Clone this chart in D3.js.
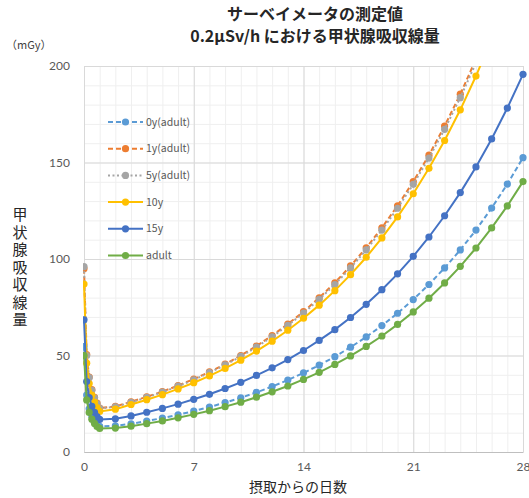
<!DOCTYPE html>
<html>
<head>
<meta charset="utf-8">
<script src="https://cdn.jsdelivr.net/npm/d3@7"></script>
<style>
body { margin: 0; background: #fff; }
svg { display: block; }
</style>
</head>
<body>
<div id="chart"></div>
<script>
// days after intake (first points are hours of day 0)
const days = [0, 0.17, 0.33, 0.5, 0.67, 0.83, 1, 2, 3, 4, 5, 6, 7, 8, 9, 10, 11, 12, 13, 14,
    15, 16, 17, 18, 19, 20, 21, 22, 23, 24, 25, 26, 27, 28];

const dose0y = [54.6, 29.5, 22.4, 18.6, 16.2, 14.4, 13.3, 13.5, 14.6, 16.0, 17.6, 19.3, 21.2, 23.3,
    25.6, 28.1, 30.9, 33.9, 37.3, 41.0, 45.0, 49.4, 54.3, 59.6, 65.5, 71.9, 79.0, 86.8, 95.4,
    104.7, 115.0, 126.4, 138.8, 152.5];
const dose1y = [95, 50.5, 38.8, 32.3, 28.3, 25.3, 22.8, 23.6, 26.0, 28.6, 31.3, 34.4, 37.8, 41.5,
    45.5, 50.0, 54.9, 60.3, 66.3, 72.7, 79.9, 87.7, 96.4, 105.8, 116.2, 127.6, 140.1, 153.8, 168.9,
    185.4, 203.6, 223, 245, 270];
const dose5y = [96, 50, 38.5, 32, 28, 25, 22.6, 23.4, 25.7, 28.3, 31.0, 34.1, 37.4, 41.1,
    45.1, 49.5, 54.4, 59.7, 65.6, 72.0, 79.1, 86.8, 95.4, 104.7, 115.0, 126.3, 138.7, 152.3, 167.2,
    183.6, 201.6, 221, 243, 267];
const dose10y = [87, 46, 35.5, 29.5, 25.8, 23.0, 21.0, 22.2, 24.6, 27.1, 29.7, 32.7, 35.9, 39.4,
    43.3, 47.6, 52.3, 57.4, 63.1, 69.3, 76.1, 83.6, 91.9, 100.9, 110.9, 121.8, 133.8, 147.0, 161.4,
    177.3, 194.8, 214, 235, 258];
const dose15y = [68.5, 36.5, 28.2, 23.6, 20.6, 18.3, 16.9, 17.2, 18.7, 20.6, 22.6, 24.8, 27.3, 29.9,
    32.9, 36.1, 39.7, 43.6, 47.9, 52.6, 57.8, 63.4, 69.7, 76.5, 84.1, 92.3, 101.4, 111.4, 122.4,
    134.4, 147.7, 162.2, 178.2, 195.7];
const doseAdult = [50, 27, 20.5, 17, 14.8, 13.2, 12.2, 12.4, 13.4, 14.7, 16.1, 17.7, 19.5, 21.4,
    23.5, 25.8, 28.4, 31.2, 34.2, 37.6, 41.3, 45.4, 49.8, 54.7, 60.1, 66.1, 72.6, 79.7, 87.6,
    96.2, 105.7, 116.1, 127.5, 140.1];

const seriesNames = ["0y(adult)", "1y(adult)", "5y(adult)", "10y", "15y", "adult"];
const xTicks = [0, 7, 14, 21, 28];
const yTicks = [0, 50, 100, 150, 200];

const titleLines = ["サーベイメータの測定値", "0.2μSv/h における甲状腺吸収線量"];
const yTitle = "甲状腺吸収線量";
const xTitle = "摂取からの日数";
const unitLabel = "（mGy）";

const W = 529, H = 498;
const margin = { top: 66, right: 6, bottom: 46, left: 84 };
const width = W - margin.left - margin.right;
const height = H - margin.top - margin.bottom;

const jpFont = "'Noto Sans CJK JP', 'Noto Sans', sans-serif";
const numFont = "Lato, 'Noto Sans', sans-serif";

const styles = [
    { color: "#5B9BD5", dash: "5,3" },
    { color: "#ED7D31", dash: "5,3" },
    { color: "#A5A5A5", dash: "2,2.5" },
    { color: "#FFC000", dash: null },
    { color: "#4472C4", dash: null },
    { color: "#70AD47", dash: null }
];
const allValues = [dose0y, dose1y, dose5y, dose10y, dose15y, doseAdult];
const series = seriesNames.map((name, i) => ({
    name,
    color: styles[i].color,
    dash: styles[i].dash,
    points: days.map((d, j) => ({ day: d, value: allValues[i][j] }))
}));

const svg = d3.select("#chart").append("svg")
    .attr("width", W)
    .attr("height", H);

const g = svg.append("g")
    .attr("transform", `translate(${margin.left},${margin.top})`);

const x = d3.scaleLinear().domain([0, 28]).range([0, width]);
const y = d3.scaleLinear().domain([0, 200]).range([height, 0]);

// minor grid
g.append("g")
    .attr("transform", `translate(0,${height})`)
    .call(d3.axisBottom(x).tickValues(d3.range(0, 29, 1)).tickSize(-height).tickFormat(""))
    .call(s => s.select(".domain").remove())
    .selectAll("line").attr("stroke", "#efefef");
g.append("g")
    .call(d3.axisLeft(y).tickValues(d3.range(0, 201, 10)).tickSize(-width).tickFormat(""))
    .call(s => s.select(".domain").remove())
    .selectAll("line").attr("stroke", "#efefef");

// major grid
g.append("g")
    .attr("transform", `translate(0,${height})`)
    .call(d3.axisBottom(x).tickValues(xTicks).tickSize(-height).tickFormat(""))
    .call(s => s.select(".domain").remove())
    .selectAll("line").attr("stroke", "#d9d9d9");
g.append("g")
    .call(d3.axisLeft(y).tickValues(yTicks).tickSize(-width).tickFormat(""))
    .call(s => s.select(".domain").remove())
    .selectAll("line").attr("stroke", "#d9d9d9");

// x axis
g.append("g")
    .attr("transform", `translate(0,${height})`)
    .call(d3.axisBottom(x).tickValues(xTicks).tickSize(0).tickPadding(10))
    .call(s => s.select(".domain").attr("stroke", "#bfbfbf"))
    .selectAll("text")
    .style("font-family", numFont)
    .style("font-size", "12px")
    .attr("fill", "#595959");

// y axis
g.append("g")
    .call(d3.axisLeft(y).tickValues(yTicks).tickSize(0).tickPadding(14))
    .call(s => s.select(".domain").remove())
    .selectAll("text")
    .style("font-family", numFont)
    .style("font-size", "12px")
    .attr("fill", "#595959");

// clip to plot area
svg.append("defs").append("clipPath").attr("id", "plotClip")
    .append("rect").attr("x", -1).attr("y", 0).attr("width", width + 6).attr("height", height + 6);

const line = d3.line().x(d => x(d.day)).y(d => y(d.value));

const plot = g.append("g").attr("clip-path", "url(#plotClip)");

series.forEach(s => {
    const sg = plot.append("g");
    sg.append("path")
        .datum(s.points)
        .attr("fill", "none")
        .attr("stroke", s.color)
        .attr("stroke-width", 2)
        .attr("stroke-dasharray", s.dash)
        .attr("d", line);
    sg.selectAll("circle")
        .data(s.points.filter(d => d.value <= 200))
        .join("circle")
        .attr("cx", d => x(d.day))
        .attr("cy", d => y(d.value))
        .attr("r", 3.6)
        .attr("fill", s.color);
});

// legend
const legend = svg.append("g").attr("transform", "translate(108,122)");
series.forEach((s, i) => {
    const row = legend.append("g").attr("transform", `translate(0,${i * 26.7})`);
    row.append("line")
        .attr("x1", 0).attr("x2", 35)
        .attr("stroke", s.color)
        .attr("stroke-width", 2)
        .attr("stroke-dasharray", s.dash);
    row.append("circle")
        .attr("cx", 17.5)
        .attr("r", 3.6)
        .attr("fill", s.color);
    row.append("text")
        .attr("x", 38)
        .attr("dy", "0.35em")
        .style("font-family", jpFont)
        .style("font-size", "10.5px")
        .attr("fill", "#595959")
        .text(s.name);
});

// title
svg.append("g").selectAll("text")
    .data(titleLines)
    .join("text")
    .attr("x", 315)
    .attr("y", (d, i) => 20 + i * 22)
    .attr("text-anchor", "middle")
    .style("font-family", jpFont)
    .style("font-size", "16px")
    .style("font-weight", "bold")
    .attr("fill", "#262626")
    .text(d => d);

// unit
svg.append("text")
    .attr("x", 6)
    .attr("y", 49)
    .style("font-family", jpFont)
    .style("font-size", "11px")
    .attr("fill", "#404040")
    .text(unitLabel);

// y title, written vertically
svg.append("text")
    .attr("x", 20)
    .attr("y", 207)
    .style("writing-mode", "vertical-rl")
    .style("text-orientation", "upright")
    .style("letter-spacing", "2.5px")
    .style("font-family", jpFont)
    .style("font-size", "15px")
    .attr("fill", "#262626")
    .text(yTitle);

// x title
svg.append("text")
    .attr("x", 298)
    .attr("y", 492)
    .attr("text-anchor", "middle")
    .style("font-family", jpFont)
    .style("font-size", "14px")
    .attr("fill", "#262626")
    .text(xTitle);
</script>
</body>
</html>
